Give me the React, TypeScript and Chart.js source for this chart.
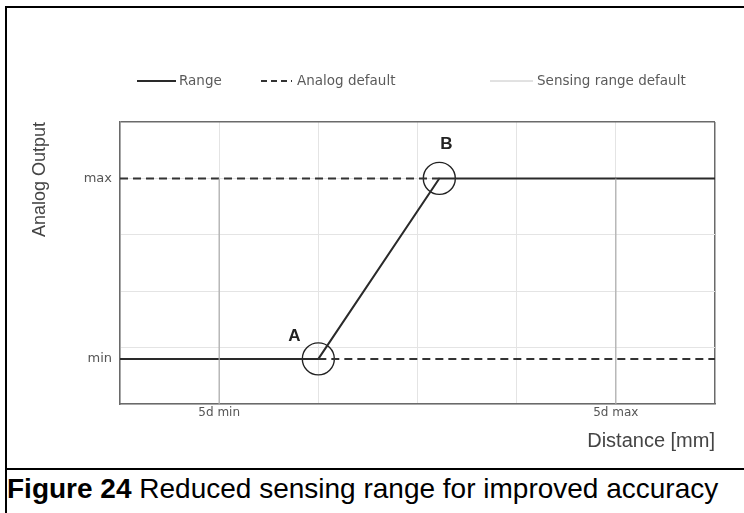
import React, { useEffect, useRef } from "react";
import { Chart, registerables } from "chart.js";

Chart.register(...registerables);

// ---- data ----
const xRange = [0, 6];
const yRange = [0, 5];
const xGridValues = [0, 1, 2, 3, 4, 5, 6];
const yGridValues = [0, 0.8, 1, 2, 3, 4, 5];
const xTickValues = [1, 5];
const xTickLabels = ["5d min", "5d max"];
const yTickValues = [0.8, 4];
const yTickLabels = ["min", "max"];

const rangeX = [0, 2, 3.22, 6];
const rangeY = [0.8, 0.8, 4, 4];
const analogUpperX = [0, 3.22];
const analogUpperY = [4, 4];
const analogLowerX = [2, 6];
const analogLowerY = [0.8, 0.8];
const sensingMinX = [1, 1];
const sensingMaxX = [5, 5];
const sensingY = [0, 4];
const markerX = [2, 3.22];
const markerY = [0.8, 4];
const markerLabels = ["A", "B"];

const legendLabels = ["Range", "Analog default", "Sensing range default"];
const xTitle = "Distance [mm]";
const yTitle = "Analog Output";

const pts = (xs: number[], ys: number[]) => xs.map((x, i) => ({ x, y: ys[i] }));

const LINE_COLOR = "#2a2a2a";
const DASH_COLOR = "#333333";
const SENSE_COLOR = "#ababab";
const GRID_COLOR = "#e4e4e4";
const FRAME_COLOR = "#6a6a6a";

const overlayPlugin = {
  id: "overlay",
  afterDraw(chart: any) {
    const ctx = chart.ctx;
    ctx.save();
    // legend
    const ly = 81;
    const items = [
      { x0: 137, x1: 176, tx: 179, dash: [] as number[], color: LINE_COLOR, w: 2 },
      { x0: 261, x1: 292, tx: 297, dash: [6, 4], color: DASH_COLOR, w: 2 },
      { x0: 490, x1: 533, tx: 537, dash: [] as number[], color: "#c4c4c4", w: 1 },
    ];
    items.forEach((it, i) => {
      ctx.beginPath();
      ctx.setLineDash(it.dash);
      ctx.strokeStyle = it.color;
      ctx.lineWidth = it.w;
      ctx.moveTo(it.x0, ly);
      ctx.lineTo(it.x1, ly);
      ctx.stroke();
      ctx.setLineDash([]);
      ctx.fillStyle = "#5a5a5a";
      ctx.font = "13.5px 'DejaVu Sans'";
      ctx.textAlign = "left";
      ctx.textBaseline = "middle";
      ctx.fillText(legendLabels[i], it.tx, ly);
    });
    // A / B labels
    const xs = chart.scales.x;
    const ys = chart.scales.y;
    const offsets = [
      [-24, -23],
      [7, -34],
    ];
    ctx.font = "bold 17px 'Liberation Sans'";
    ctx.fillStyle = "#222";
    ctx.textAlign = "center";
    ctx.textBaseline = "middle";
    markerLabels.forEach((lab, i) => {
      const px = xs.getPixelForValue(markerX[i]);
      const py = ys.getPixelForValue(markerY[i]);
      ctx.fillText(lab, px + offsets[i][0], py + offsets[i][1]);
    });
    ctx.restore();
  },
};

function ChartView() {
  const ref = useRef<HTMLCanvasElement>(null);
  useEffect(() => {
    if (!ref.current) return;
    const chart = new Chart(ref.current, {
      type: "scatter",
      data: {
        datasets: [
          {
            label: "Sensing range default",
            data: pts(sensingMinX, sensingY),
            showLine: true,
            borderColor: SENSE_COLOR,
            borderWidth: 1.2,
            pointRadius: 0,
          },
          {
            label: "Sensing range default",
            data: pts(sensingMaxX, sensingY),
            showLine: true,
            borderColor: SENSE_COLOR,
            borderWidth: 1.2,
            pointRadius: 0,
          },
          {
            label: "Analog default",
            data: pts(analogUpperX, analogUpperY),
            showLine: true,
            borderColor: DASH_COLOR,
            borderDash: [8, 5],
            borderWidth: 2,
            pointRadius: 0,
          },
          {
            label: "Analog default",
            data: pts(analogLowerX, analogLowerY),
            showLine: true,
            borderColor: DASH_COLOR,
            borderDash: [8, 5],
            borderWidth: 2,
            pointRadius: 0,
          },
          {
            label: "Range",
            data: pts(rangeX, rangeY),
            showLine: true,
            borderColor: LINE_COLOR,
            borderWidth: 2,
            pointRadius: 0,
          },
          {
            label: "Markers",
            data: pts(markerX, markerY),
            showLine: false,
            pointRadius: 16,
            pointBorderWidth: 1.4,
            pointBorderColor: "#222",
            pointBackgroundColor: "rgba(0,0,0,0)",
          },
        ],
      },
      options: {
        responsive: true,
        maintainAspectRatio: false,
        animation: false,
        events: [],
        layout: { padding: { left: 0, top: 122, right: 29, bottom: 0 } },
        plugins: {
          legend: { display: false },
          tooltip: { enabled: false },
        },
        scales: {
          x: {
            type: "linear",
            min: xRange[0],
            max: xRange[1],
            afterBuildTicks: (s: any) => {
              s.ticks = xGridValues.map((v) => ({ value: v }));
            },
            afterFit: (s: any) => {
              s.height = 65;
            },
            ticks: {
              autoSkip: false,
              maxRotation: 0,
              padding: 2,
              color: "#555",
              font: { family: "'DejaVu Sans'", size: 12 },
              callback: (v: any) => {
                const i = xTickValues.indexOf(Number(v));
                return i >= 0 ? xTickLabels[i] : "";
              },
            },
            grid: {
              drawTicks: false,
              color: (c: any) => {
                const v = c.tick ? c.tick.value : null;
                if (v === xRange[1]) return FRAME_COLOR;
                return GRID_COLOR;
              },
              lineWidth: (c: any) => (c.tick && c.tick.value === xRange[1] ? 1.5 : 1),
            },
            border: { display: true, color: FRAME_COLOR, width: 1.5 },
            title: {
              display: true,
              text: xTitle,
              align: "end",
              color: "#444",
              font: { family: "'Liberation Sans'", size: 20 },
              padding: { top: 0, bottom: 16 },
            },
          },
          y: {
            type: "linear",
            min: yRange[0],
            max: yRange[1],
            afterBuildTicks: (s: any) => {
              s.ticks = yGridValues.map((v) => ({ value: v }));
            },
            afterFit: (s: any) => {
              s.width = 120;
            },
            ticks: {
              autoSkip: false,
              padding: 8,
              color: "#555",
              font: { family: "'DejaVu Sans'", size: 13 },
              callback: (v: any) => {
                const i = yTickValues.indexOf(Number(v));
                return i >= 0 ? yTickLabels[i] : "";
              },
            },
            grid: {
              drawTicks: false,
              color: (c: any) => {
                const v = c.tick ? c.tick.value : null;
                if (v === yRange[1]) return FRAME_COLOR;
                if (v === 0.8) return "rgba(0,0,0,0)";
                return GRID_COLOR;
              },
              lineWidth: (c: any) => (c.tick && c.tick.value === yRange[1] ? 1.5 : 1),
            },
            border: { display: true, color: FRAME_COLOR, width: 1.5 },
            title: {
              display: true,
              text: yTitle,
              align: "end",
              color: "#444",
              font: { family: "'Liberation Sans'", size: 18 },
              padding: { top: 29, bottom: 0 },
            },
          },
        },
      },
      plugins: [overlayPlugin],
    } as any);
    return () => chart.destroy();
  }, []);
  return <canvas ref={ref} />;
}

export default function App() {
  return (
    <div
      style={{
        position: "absolute",
        left: 0,
        top: 0,
        width: 744,
        height: 513,
        overflow: "hidden",
        background: "#fff",
      }}
    >
      <div
        style={{
          position: "absolute",
          left: 5,
          top: 6,
          width: 800,
          height: 600,
          borderLeft: "2px solid #000",
          borderTop: "2px solid #000",
        }}
      />
      <div
        style={{
          position: "absolute",
          left: 5,
          top: 468,
          width: 800,
          borderTop: "2px solid #000",
        }}
      />
      <div
        style={{
          position: "absolute",
          left: 7,
          top: 473,
          whiteSpace: "nowrap",
          fontFamily: "'Liberation Sans', Arial, sans-serif",
          fontSize: 28,
          color: "#000",
        }}
      >
        <b>Figure 24</b> Reduced sensing range for improved accuracy
      </div>
      <div style={{ position: "absolute", left: 0, top: 0, width: 744, height: 469 }}>
        <ChartView />
      </div>
    </div>
  );
}
